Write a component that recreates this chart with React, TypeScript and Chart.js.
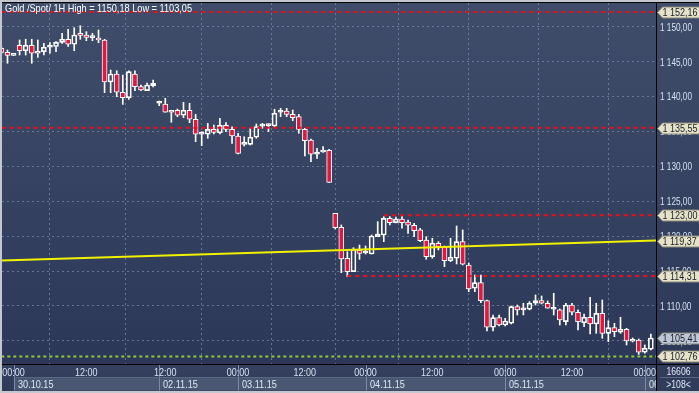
import React, { useEffect, useRef } from "react";
import { Chart, registerables } from "chart.js";

Chart.register(...registerables);

// ---------- data ----------
const opens = [
  1146.95, 1146.37, 1145.94, 1147.38, 1146.6, 1147.38, 1146.23, 1146.46, 1147.09, 1147.2,
  1147.8, 1148.24, 1147.52, 1148.85, 1148.85, 1148.47, 1148.38, 1148.14, 1142.11, 1143.26,
  1140.64, 1139.86, 1143.26, 1141.44, 1140.87, 1141.58, 1139.06, 1138.96, 1137.77, 1138.06,
  1137.34, 1138.06, 1136.77, 1134.62, 1134.62, 1135.33, 1134.84, 1135.91, 1135.33, 1134.37,
  1133.18, 1133.18, 1134.19, 1135.79, 1135.85, 1135.8, 1137.78, 1137.96, 1137.48, 1137.14,
  1135.33, 1133.8, 1131.75, 1132.08, 1132.32, 1123.29, 1121.28, 1116.84, 1114.92, 1118.03,
  1117.6, 1117.45, 1119.93, 1120.18, 1122.57, 1121.94, 1122.47, 1122.04, 1121.57, 1120.9,
  1119.46, 1117.07, 1118.99, 1118.5, 1116.49, 1116.84, 1119.22, 1115.88, 1112.54, 1113.34,
  1110.76, 1106.95, 1108.32, 1107.27, 1107.52, 1109.9, 1109.45, 1109.53, 1110.39, 1110.76,
  1110.39, 1109.53, 1109.43, 1107.75, 1110.14, 1109.1, 1107.6, 1108.38, 1107.42, 1108.95,
  1106.08, 1106.89, 1106.23, 1106.66, 1104.94, 1105.12, 1103.36, 1103.79,
];
const highs = [
  1147.2, 1146.7, 1146.0, 1148.14, 1148.24, 1148.24, 1148.14, 1147.66, 1147.75, 1147.9,
  1149.1, 1149.67, 1149.9, 1150.18, 1149.33, 1149.1, 1149.57, 1148.24, 1143.83, 1143.73,
  1143.1, 1143.73, 1143.73, 1141.68, 1141.97, 1142.4, 1139.39, 1139.78, 1138.06, 1138.24,
  1139.2, 1139.06, 1137.48, 1134.99, 1136.19, 1135.95, 1136.91, 1136.28, 1135.7, 1134.76,
  1134.27, 1135.48, 1136.09, 1136.19, 1136.09, 1138.2, 1138.34, 1138.34, 1138.1, 1137.48,
  1135.48, 1133.94, 1132.61, 1132.84, 1132.46, 1123.29, 1121.61, 1117.78, 1118.36, 1118.74,
  1118.6, 1120.18, 1122.09, 1122.8, 1122.8, 1122.76, 1122.8, 1122.33, 1121.86, 1121.14,
  1119.93, 1119.71, 1119.22, 1118.6, 1119.71, 1121.47, 1120.9, 1116.16, 1114.44, 1114.44,
  1110.86, 1108.71, 1108.71, 1108.23, 1110.0, 1110.14, 1110.39, 1110.62, 1111.58, 1111.43,
  1110.72, 1111.82, 1109.57, 1110.39, 1110.39, 1109.43, 1108.85, 1111.25, 1110.39, 1110.86,
  1107.89, 1107.52, 1108.38, 1106.8, 1105.41, 1105.27, 1104.41, 1105.98,
];
const lows = [
  1146.2, 1144.8, 1145.9, 1145.98, 1145.98, 1144.8, 1145.65, 1145.98, 1146.23, 1146.46,
  1147.66, 1147.2, 1146.6, 1148.24, 1148.03, 1148.03, 1147.75, 1140.58, 1140.58, 1140.0,
  1138.9, 1139.63, 1140.87, 1140.87, 1140.87, 1141.4, 1138.72, 1137.77, 1136.34, 1137.14,
  1137.0, 1136.28, 1133.55, 1132.98, 1134.04, 1134.66, 1134.66, 1134.99, 1133.32, 1131.79,
  1132.94, 1133.08, 1134.04, 1135.48, 1134.99, 1135.66, 1137.14, 1137.14, 1136.57, 1134.76,
  1131.5, 1130.69, 1131.17, 1132.03, 1127.73, 1121.04, 1114.77, 1114.2, 1114.92, 1116.69,
  1117.45, 1117.45, 1119.93, 1119.22, 1121.61, 1121.9, 1121.14, 1120.42, 1119.93, 1119.22,
  1116.69, 1116.84, 1118.03, 1115.63, 1116.35, 1116.02, 1115.88, 1112.05, 1112.05, 1110.47,
  1106.41, 1106.41, 1107.13, 1107.13, 1107.42, 1108.71, 1108.71, 1109.43, 1110.14, 1110.29,
  1109.67, 1108.71, 1107.27, 1107.27, 1108.71, 1106.56, 1107.03, 1105.98, 1106.08, 1105.37,
  1104.88, 1105.6, 1106.08, 1104.41, 1104.84, 1103.05, 1103.22, 1103.69,
];
const closes = [
  1146.37, 1145.94, 1145.96, 1146.6, 1147.38, 1146.23, 1146.46, 1147.09, 1147.2, 1147.8,
  1148.24, 1147.52, 1148.85, 1148.8, 1148.52, 1148.5, 1148.14, 1142.11, 1143.26, 1140.64,
  1139.86, 1143.59, 1141.44, 1140.97, 1141.68, 1141.93, 1139.1, 1137.77, 1138.06, 1137.34,
  1138.06, 1136.77, 1134.62, 1134.76, 1135.33, 1134.9, 1135.91, 1135.33, 1134.37, 1131.89,
  1133.51, 1134.19, 1135.71, 1135.85, 1135.88, 1137.63, 1137.82, 1137.48, 1136.99, 1135.33,
  1133.7, 1131.75, 1132.08, 1132.36, 1127.73, 1121.23, 1116.74, 1114.92, 1118.13, 1117.55,
  1117.64, 1120.03, 1120.32, 1122.57, 1121.94, 1122.47, 1121.94, 1121.57, 1120.8, 1119.36,
  1117.07, 1118.99, 1118.5, 1116.49, 1116.98, 1119.22, 1115.98, 1112.44, 1113.34, 1110.76,
  1106.95, 1108.32, 1107.27, 1107.85, 1109.9, 1109.43, 1109.5, 1110.39, 1110.76, 1110.39,
  1109.67, 1109.55, 1108.0, 1110.14, 1109.1, 1107.75, 1108.38, 1107.42, 1108.95, 1106.08,
  1106.89, 1106.31, 1106.66, 1104.98, 1105.22, 1103.36, 1103.94, 1105.41,
];

const priceTicks = [1105, 1110, 1115, 1120, 1125, 1130, 1135, 1140, 1145, 1150];
const timeTickIdx = [2, 14, 27, 39, 50, 60, 71, 83, 94, 106];
const timeTickLabels = ["00:00", "12:00", "12:00", "00:00", "12:00", "00:00", "12:00", "00:00", "12:00", "00:00"];
const dayStartIdx = [2, 26, 39, 60, 83, 106];
const dayLabels = ["30.10.15", "02.11.15", "03.11.15", "04.11.15", "05.11.15", "06.11.15"];

const redLevels = [1152.16, 1135.55, 1123.0, 1114.31];
const redLevelStartIdx = [0, 0, 63, 57];
const greenLevel = 1102.76;
const trendIdx = [0, 107.85];
const trendValues = [1116.5, 1119.37];
const lastPrice = 1105.41;
const tagValues = [1152.16, 1135.55, 1123.0, 1119.37, 1114.31, 1102.76];

const titleText = "Gold /Spot/ 1H High = 1150,18 Low = 1103,05";
const cornerTop = "16606";
const cornerBottom = ">108<";

// ---------- text helpers ----------
const SANS = "'Liberation Sans', Arial, sans-serif";

function fmtPrice(v: number): string {
  const s = v.toFixed(2).replace(".", ",");
  const [intPart, dec] = s.split(",");
  const withSpace = intPart.replace(/\B(?=(\d{3})+(?!\d))/g, " ");
  return withSpace + "," + dec;
}

// a text style: font size, and a sample string with the width it takes in the picture
type TextStyle = { size: number; sample: string; sampleWidth: number };
const timeStyle: TextStyle = { size: 11.5, sample: "12:00", sampleWidth: 22.5 };
const dateStyle: TextStyle = { size: 11.5, sample: "30.10.15", sampleWidth: 35.5 };
const priceStyle: TextStyle = { size: 11.5, sample: "1 150,00", sampleWidth: 32 };
const tagStyle: TextStyle = { size: 11.5, sample: "1 135,55", sampleWidth: 35 };
const titleStyle: TextStyle = { size: 11.5, sample: titleText, sampleWidth: 187 };
const cornerStyle: TextStyle = { size: 11.5, sample: "16606", sampleWidth: 24 };

function styledText(
  ctx: CanvasRenderingContext2D,
  st: TextStyle,
  text: string,
  x: number,
  y: number,
  align: "left" | "center",
  color: string
) {
  ctx.save();
  ctx.font = `${st.size}px ${SANS}`;
  const sx = st.sampleWidth / ctx.measureText(st.sample).width;
  ctx.fillStyle = color;
  ctx.textBaseline = "middle";
  ctx.textAlign = "left";
  const w = ctx.measureText(text).width * sx;
  const x0 = align === "center" ? x - w / 2 : x;
  ctx.translate(x0, y);
  ctx.scale(sx, 1);
  ctx.fillText(text, 0, 0);
  ctx.restore();
}

const X_MIN = 0.1;
const X_MAX = 107.85;

const framePlugin = {
  id: "frame",
  beforeDraw(chart: any) {
    const { ctx, width, height } = chart;
    ctx.save();
    const g = ctx.createLinearGradient(0, 0, 0, height);
    g.addColorStop(0, "#3f4d6a");
    g.addColorStop(1, "#2b3656");
    ctx.fillStyle = g;
    ctx.fillRect(0, 0, width, height);
    ctx.restore();
  },
  afterDraw(chart: any) {
    const { ctx, width, height, chartArea: ca } = chart;
    const xs = chart.scales.x;
    const ys = chart.scales.y;
    ctx.save();

    // bottom axis background
    const g = ctx.createLinearGradient(0, ca.bottom, 0, height);
    g.addColorStop(0, "#35415f");
    g.addColorStop(1, "#2f3a58");
    ctx.fillStyle = g;
    ctx.fillRect(0, ca.bottom, ca.right, height - ca.bottom);

    const rowTop = ca.bottom + 13.5;
    const rowBot = height - 2.5;

    ctx.save();
    ctx.beginPath();
    ctx.rect(0, ca.bottom, ca.right, height - ca.bottom);
    ctx.clip();
    dayStartIdx.forEach((idx, k) => {
      const x0 = Math.round(xs.getPixelForValue(idx));
      const x1 = k + 1 < dayStartIdx.length ? Math.round(xs.getPixelForValue(dayStartIdx[k + 1])) : ca.right;
      ctx.fillStyle = "#4a5773";
      ctx.fillRect(x0, rowTop, x1 - x0, rowBot - rowTop);
      ctx.strokeStyle = "#7d8aa6";
      ctx.lineWidth = 1;
      ctx.beginPath();
      ctx.moveTo(x0 + 0.5, ca.bottom);
      ctx.lineTo(x0 + 0.5, rowBot);
      ctx.stroke();
      styledText(ctx, dateStyle, dayLabels[k], x0 + 4, (rowTop + rowBot) / 2 + 0.5, "left", "#dfe7f4");
    });
    ctx.strokeStyle = "#5a6782";
    ctx.beginPath();
    ctx.moveTo(xs.getPixelForValue(dayStartIdx[0]), rowTop);
    ctx.lineTo(ca.right, rowTop);
    ctx.stroke();
    timeTickIdx.forEach((idx, k) => {
      styledText(ctx, timeStyle, timeTickLabels[k], xs.getPixelForValue(idx), ca.bottom + 8.5, "center", "#d6e1f2");
    });
    ctx.restore();

    // corner box
    ctx.fillStyle = "#303c5a";
    ctx.fillRect(ca.right, ca.bottom, width - ca.right, height - ca.bottom);
    ctx.strokeStyle = "#5a6782";
    ctx.lineWidth = 1;
    ctx.beginPath();
    ctx.moveTo(ca.right + 4, rowTop);
    ctx.lineTo(width, rowTop);
    ctx.stroke();
    styledText(ctx, cornerStyle, cornerTop, (ca.right + width) / 2 + 1, ca.bottom + 8, "center", "#dfe7f4");
    styledText(ctx, cornerStyle, cornerBottom, (ca.right + width) / 2 + 1, (rowTop + rowBot) / 2 + 0.5, "center", "#dfe7f4");

    // right axis labels
    ctx.save();
    ctx.beginPath();
    ctx.rect(ca.right, 0, width - ca.right, ca.bottom);
    ctx.clip();
    priceTicks.forEach((v) => {
      styledText(ctx, priceStyle, fmtPrice(v), ca.right + 4, ys.getPixelForValue(v) + 0.5, "left", "#d6e1f2");
    });
    ctx.restore();

    // separators
    ctx.strokeStyle = "#000000";
    ctx.lineWidth = 1;
    ctx.beginPath();
    ctx.moveTo(ca.right + 0.5, ca.top);
    ctx.lineTo(ca.right + 0.5, height - 2);
    ctx.moveTo(0, ca.bottom + 0.5);
    ctx.lineTo(width, ca.bottom + 0.5);
    ctx.moveTo(0, ca.top - 0.5);
    ctx.lineTo(width, ca.top - 0.5);
    ctx.stroke();

    // price tags
    ctx.save();
    ctx.beginPath();
    ctx.rect(ca.right + 1, 0, width - ca.right, ca.bottom);
    ctx.clip();
    const drawTag = (v: number, fill: string) => {
      const y = Math.round(ys.getPixelForValue(v)) + 0.5;
      const h = 5.5;
      const x0 = ca.right + 1.5;
      ctx.beginPath();
      ctx.moveTo(x0, y);
      ctx.lineTo(x0 + 5, y - h);
      ctx.lineTo(width + 2, y - h);
      ctx.lineTo(width + 2, y + h);
      ctx.lineTo(x0 + 5, y + h);
      ctx.closePath();
      ctx.fillStyle = fill;
      ctx.fill();
      ctx.strokeStyle = "#8a8a7a";
      ctx.lineWidth = 1;
      ctx.stroke();
      styledText(ctx, tagStyle, fmtPrice(v), x0 + 5, y + 0.5, "left", "#1a1e2a");
    };
    tagValues.forEach((v) => drawTag(v, "#e6e2c8"));
    drawTag(lastPrice, "#bcc6d6");
    ctx.restore();

    // title
    styledText(ctx, titleStyle, titleText, 5, 8.5, "left", "#ffffff");

    // outer frame
    ctx.fillStyle = "#c3c7cf";
    ctx.fillRect(0, 0, width, 2);
    ctx.fillRect(0, 0, 2, height);
    ctx.fillRect(0, height - 2, width, 2);

    ctx.restore();
  },
};

export default function App() {
  const ref = useRef<HTMLCanvasElement | null>(null);

  useEffect(() => {
    const canvas = ref.current;
    if (!canvas) return;
    const idx = opens.map((_, i) => i);
    const bodyColors = idx.map((i) => (closes[i] < opens[i] ? "#e5173f" : "rgba(0,0,0,0)"));

    const levelDatasets = redLevels.map((v, k) => ({
      type: "line" as const,
      data: [
        { x: redLevelStartIdx[k], y: v },
        { x: X_MAX + 1, y: v },
      ],
      borderColor: "#e8101c",
      borderWidth: 2,
      borderDash: [4, 4],
      pointRadius: 0,
      order: 0,
    }));

    const chart = new Chart(canvas, {
      type: "bar",
      data: {
        datasets: [
          {
            type: "bar",
            data: idx.map((i) => ({ x: i, y: [Math.max(opens[i], closes[i]), highs[i]] })),
            backgroundColor: "#ffffff",
            borderWidth: 0,
            barThickness: 1,
            grouped: false,
            order: 2,
          } as any,
          {
            type: "bar",
            data: idx.map((i) => ({ x: i, y: [lows[i], Math.min(opens[i], closes[i])] })),
            backgroundColor: "#ffffff",
            borderWidth: 0,
            barThickness: 1,
            grouped: false,
            order: 2,
          } as any,
          {
            type: "bar",
            data: idx.map((i) => ({ x: i, y: [opens[i], closes[i]] })),
            backgroundColor: bodyColors,
            borderColor: "#ffffff",
            borderWidth: 1,
            borderSkipped: false,
            barThickness: 5,
            minBarLength: 2,
            grouped: false,
            order: 1,
          } as any,
          ...levelDatasets,
          {
            type: "line",
            data: [
              { x: -1, y: greenLevel },
              { x: X_MAX + 1, y: greenLevel },
            ],
            borderColor: "#8ccb3e",
            borderWidth: 2,
            borderDash: [3, 3],
            pointRadius: 0,
            order: 0,
          },
          {
            type: "line",
            data: trendIdx.map((x, k) => ({ x, y: trendValues[k] })),
            borderColor: "#f2f200",
            borderWidth: 2,
            pointRadius: 0,
            order: 0,
          },
        ] as any,
      },
      options: {
        responsive: false,
        animation: false,
        devicePixelRatio: 1,
        layout: { padding: { left: 2, top: 3, right: 0, bottom: 0 } },
        plugins: {
          legend: { display: false },
          tooltip: { enabled: false },
        },
        scales: {
          x: {
            type: "linear",
            min: X_MIN,
            max: X_MAX,
            offset: false,
            afterBuildTicks: (s: any) => {
              s.ticks = timeTickIdx.map((v) => ({ value: v }));
            },
            afterFit: (s: any) => {
              s.height = 29;
              s.paddingLeft = 0;
              s.paddingRight = 0;
            },
            ticks: { display: false, autoSkip: false, maxRotation: 0 },
            grid: { color: "rgba(120,138,170,0.75)", drawTicks: false, lineWidth: 1 },
            border: { display: false, dash: [2, 3] },
          },
          y: {
            position: "right",
            min: 1101.68,
            max: 1153.44,
            afterBuildTicks: (s: any) => {
              s.ticks = priceTicks.map((v) => ({ value: v }));
            },
            afterFit: (s: any) => {
              s.width = 43;
              s.paddingTop = 0;
              s.paddingBottom = 0;
            },
            ticks: { display: false },
            grid: { color: "rgba(120,138,170,0.75)", drawTicks: false, lineWidth: 1 },
            border: { display: false, dash: [2, 3] },
          },
        },
      } as any,
      plugins: [framePlugin],
    });
    return () => chart.destroy();
  }, []);

  return (
    <div style={{ position: "absolute", left: 0, top: 0, width: 699, height: 393 }}>
      <canvas ref={ref} width={699} height={393} style={{ width: 699, height: 393, display: "block" }} />
    </div>
  );
}
